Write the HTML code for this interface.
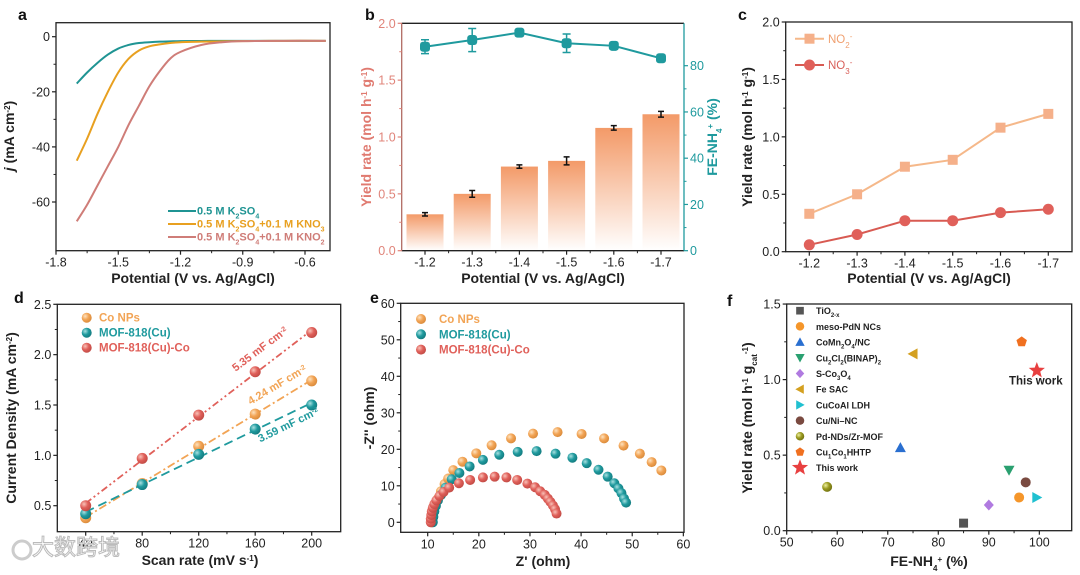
<!DOCTYPE html>
<html><head><meta charset="utf-8">
<style>
html,body{margin:0;padding:0;background:#fff;}
svg{display:block;font-family:"Liberation Sans",Arial,sans-serif;}
</style></head>
<body>
<svg id="fig" width="1080" height="575" viewBox="0 0 1080 575" xmlns="http://www.w3.org/2000/svg">
<defs>
<linearGradient id="barGrad" x1="0" y1="0" x2="0" y2="1">
<stop offset="0" stop-color="#f39a68"/><stop offset="1" stop-color="#ffffff"/></linearGradient>
<radialGradient id="gOr" cx="0.35" cy="0.35" r="0.7"><stop offset="0" stop-color="#fde2bf"/><stop offset="0.5" stop-color="#f2a455"/><stop offset="1" stop-color="#d98a3a"/></radialGradient>
<radialGradient id="gTe" cx="0.35" cy="0.35" r="0.7"><stop offset="0" stop-color="#a8e0e0"/><stop offset="0.5" stop-color="#1f9a9e"/><stop offset="1" stop-color="#137a7e"/></radialGradient>
<radialGradient id="gRe" cx="0.35" cy="0.35" r="0.7"><stop offset="0" stop-color="#f8c2b8"/><stop offset="0.5" stop-color="#e0605a"/><stop offset="1" stop-color="#c04a44"/></radialGradient>
<radialGradient id="gOl" cx="0.35" cy="0.35" r="0.7"><stop offset="0" stop-color="#eef0a0"/><stop offset="0.5" stop-color="#9a9a20"/><stop offset="1" stop-color="#707010"/></radialGradient>
</defs>
</svg>
<script>
// ---------- DATA ----------
// panel a
const aX = [-1.7,-1.65,-1.6,-1.55,-1.5,-1.45,-1.4,-1.35,-1.3,-1.25,-1.2,-1.1,-1.0,-0.9,-0.7,-0.5];
const aK2SO4 = [-17,-13,-9.5,-6.5,-4.3,-3,-2.3,-2,-1.8,-1.7,-1.6,-1.55,-1.5,-1.5,-1.5,-1.5];
const aKNO3 = [-45,-37,-28,-20,-13,-8,-5,-3.5,-2.8,-2.3,-2,-1.8,-1.7,-1.6,-1.5,-1.5];
const aKNO2 = [-67,-61,-54,-47,-40,-32,-25,-18,-12.5,-8,-5.5,-3,-2,-1.6,-1.5,-1.5];
const aXTicks = [-1.8,-1.5,-1.2,-0.9,-0.6];
const aYTicks = [0,-20,-40,-60];
// panel b
const bCats = ["-1.2","-1.3","-1.4","-1.5","-1.6","-1.7"];
const bYield = [0.32,0.50,0.74,0.79,1.08,1.20];
const bYieldErr = [0.015,0.03,0.015,0.035,0.02,0.025];
const bFE = [88.2,91.1,94.3,89.7,88.6,83.2];
const bFEErr = [3,5,1,4,1.5,1];
const bYTicks = [0,0.5,1.0,1.5,2.0];
const bY2Ticks = [0,20,40,60,80];
// panel c
const cCats = ["-1.2","-1.3","-1.4","-1.5","-1.6","-1.7"];
const cNO2 = [0.33,0.50,0.74,0.80,1.08,1.20];
const cNO3 = [0.06,0.15,0.27,0.27,0.34,0.37];
const cYTicks = [0,0.5,1.0,1.5,2.0];
// panel d
const dX = [40,80,120,160,200];
const dCoNPs = [0.38,0.72,1.09,1.41,1.74];
const dMOFCu = [0.42,0.71,1.01,1.26,1.50];
const dMOFCo = [0.50,0.97,1.40,1.83,2.22];
const dYTicks = [0.5,1.0,1.5,2.0,2.5];
const dXTicks = [40,80,120,160,200];
// panel e
const eCoX = [10.8,11,11.2,11.5,12,12.6,13.3,14,15,16.8,19.5,22.5,26.3,30.6,35.4,40.1,44.5,48.3,51.5,53.8,55.7];
const eCoY = [0,1.5,3,4.5,6.5,8.5,10.5,12,14.3,16.6,18.9,21.1,23,24.3,24.7,24.2,23,21,18.8,16.5,14.2];
const eCuX = [11,11.1,11.3,11.6,12,12.6,13.5,14.7,16.2,18.2,20.8,24,27.6,31.3,35,38.3,41.1,43.4,45.2,46.5,47.3,47.9,48.4,48.8];
const eCuY = [0,1.5,3,4.5,6,7.5,9.5,11.8,13.5,15.3,17.1,18.5,19.3,19.5,18.8,17.7,16.2,14.4,12.5,10.7,9.3,8,6.5,5.4];
const eCuCoX = [10.6,10.6,10.7,10.8,11,11.3,11.7,12.3,13.1,14.2,16.1,18.3,20.8,23.1,25.4,27.5,29.5,31,32,32.9,33.5,34,34.5,34.9,35.2];
const eCuCoY = [0,1,2,3,4,5,6,7.2,8.3,9.5,10.7,11.6,12.3,12.5,12.3,11.6,10.6,9.6,8.5,7.5,6.5,5.6,4.6,3.6,2.4];
const eXTicks = [10,20,30,40,50,60];
const eYTicks = [0,10,20,30,40,50,60];
// panel f
const fNames = ["TiO<tspan baseline-shift='sub' font-size='6'>2-x</tspan>","meso-PdN NCs","CoMn<tspan baseline-shift='sub' font-size='6'>2</tspan>O<tspan baseline-shift='sub' font-size='6'>4</tspan>/NC","Cu<tspan baseline-shift='sub' font-size='6'>2</tspan>Cl<tspan baseline-shift='sub' font-size='6'>2</tspan>(BINAP)<tspan baseline-shift='sub' font-size='6'>2</tspan>","S-Co<tspan baseline-shift='sub' font-size='6'>3</tspan>O<tspan baseline-shift='sub' font-size='6'>4</tspan>","Fe SAC","CuCoAl LDH","Cu/Ni–NC","Pd-NDs/Zr-MOF","Cu<tspan baseline-shift='sub' font-size='6'>1</tspan>Co<tspan baseline-shift='sub' font-size='6'>1</tspan>HHTP","This work"];
const fFE = [85,96,72.5,94,90,75,99.5,97.3,58,96.5,99.5];
const fYield = [0.05,0.22,0.55,0.40,0.17,1.17,0.22,0.32,0.29,1.25,1.06];
const fXTicks = [50,60,70,80,90,100];
const fYTicks = [0,0.5,1.0,1.5];

// ---------- HELPERS ----------
const NS="http://www.w3.org/2000/svg";
const svg=document.getElementById('fig');
function mk(parent, tag, attrs, name){
  const el=document.createElementNS(NS,tag);
  for(const k in attrs) el.setAttribute(k,attrs[k]);
  
  
  parent.appendChild(el); return el;
}
function txt(parent,x,y,html,attrs,name){
  const a=Object.assign({x:x,y:y,'font-size':12.5,fill:'#222'},attrs||{});
  const t=mk(parent,'text',a,name); t.innerHTML=html; return t;
}
function grp(name){ return mk(svg,'g',{},name); }
function smooth(pts){
  let d='M'+pts[0][0]+','+pts[0][1];
  for(let i=0;i<pts.length-1;i++){
    const p0=pts[Math.max(0,i-1)],p1=pts[i],p2=pts[i+1],p3=pts[Math.min(pts.length-1,i+2)];
    const c1=[p1[0]+(p2[0]-p0[0])/6,p1[1]+(p2[1]-p0[1])/6];
    const c2=[p2[0]-(p3[0]-p1[0])/6,p2[1]-(p3[1]-p1[1])/6];
    d+=' C'+c1+' '+c2+' '+p2;
  }
  return d;
}
function frame(g,l,t,r,b,name){ mk(g,'rect',{x:l,y:t,width:r-l,height:b-t,fill:'none',stroke:'#222','stroke-width':1.3},name); }
function xTicksF(g,ticks,sx,b,labels,color,minor){
  ticks.forEach((v,i)=>{
    mk(g,'line',{x1:sx(v),x2:sx(v),y1:b,y2:b+4,stroke:'#222','stroke-width':1.2},'x-tick');
    txt(g,sx(v),b+16,labels?labels[i]:String(v),{'text-anchor':'middle',fill:color||'#222'},'x-tick-label');
  });
  if(minor) for(let i=0;i<ticks.length-1;i++){const m=(ticks[i]+ticks[i+1])/2;
    mk(g,'line',{x1:sx(m),x2:sx(m),y1:b,y2:b+2.5,stroke:'#222','stroke-width':1},'x-minor-tick');}
}
function yTicksF(g,ticks,sy,l,fmt,color,side){
  const dir=side==='right'?1:-1;
  ticks.forEach(v=>{
    mk(g,'line',{x1:l,x2:l+dir*4,y1:sy(v),y2:sy(v),stroke:color||'#222','stroke-width':1.2},'y-tick');
    txt(g,l+dir*6,sy(v)+4.5,fmt(v),{'text-anchor':side==='right'?'start':'end',fill:color||'#222'},'y-tick-label');
  });
  for(let i=0;i<ticks.length-1;i++){const m=(ticks[i]+ticks[i+1])/2;
    mk(g,'line',{x1:l,x2:l+dir*2.5,y1:sy(m),y2:sy(m),stroke:color||'#222','stroke-width':1},'y-minor-tick');}
}
function panelLabel(x,y,s){ txt(svg,x,y,s,{'font-size':16,'font-weight':'bold',fill:'#111'},'panel-label-'+s); }
function ytitle(g,x,y,html,color,name){ txt(g,0,0,html,{'font-size':14,'font-weight':'bold',fill:color||'#222','text-anchor':'middle',transform:`translate(${x},${y}) rotate(-90)`},name); }
function xtitle(g,x,y,html,name){ txt(g,x,y,html,{'font-size':14,'font-weight':'bold','text-anchor':'middle'},name); }
const f1=v=>v.toFixed(1), f0=v=>String(v);

// ---------- PANEL A ----------
(function(){
  const g=grp('panel-a-lsv');
  const sx=v=>56+(v+1.8)*(249/1.2), sy=v=>36.7-v*2.755;
  frame(g,56,22.7,330,250.7,'plot-frame');
  xTicksF(g,aXTicks,sx,250.7,aXTicks.map(v=>v.toFixed(1)),null,true);
  yTicksF(g,aYTicks,sy,56,f0);
  const series=[[aK2SO4,'#1f9493','curve-k2so4'],[aKNO3,'#e8a020','curve-kno3'],[aKNO2,'#cf7d78','curve-kno2']];
  series.forEach(s=>{
    mk(g,'path',{d:smooth(aX.map((x,i)=>[sx(x),sy(s[0][i])])),fill:'none',stroke:s[1],'stroke-width':2},s[2]);
  });
  const leg=[['0.5 M K<tspan baseline-shift="sub" font-size="7">2</tspan>SO<tspan baseline-shift="sub" font-size="7">4</tspan>','#1f9493'],
    ['0.5 M K<tspan baseline-shift="sub" font-size="7">2</tspan>SO<tspan baseline-shift="sub" font-size="7">4</tspan>+0.1 M KNO<tspan baseline-shift="sub" font-size="7">3</tspan>','#e8a020'],
    ['0.5 M K<tspan baseline-shift="sub" font-size="7">2</tspan>SO<tspan baseline-shift="sub" font-size="7">4</tspan>+0.1 M KNO<tspan baseline-shift="sub" font-size="7">2</tspan>','#cf7d78']];
  leg.forEach((l,i)=>{const y=211+i*13;
    mk(g,'line',{x1:168,x2:196,y1:y,y2:y,stroke:l[1],'stroke-width':2},'legend-line');
    txt(g,197,y+3.5,l[0],{'font-size':11,'font-weight':'bold',fill:l[1]},'legend-entry');});
  xtitle(g,193,283,'Potential (V vs. Ag/AgCl)','x-axis-title');
  ytitle(g,14,136,'<tspan font-style="italic">j</tspan> (mA cm<tspan baseline-shift="super" font-size="8">-2</tspan>)','#222','y-axis-title');
})();
panelLabel(18,20,'a');

// ---------- PANEL B ----------
(function(){
  const g=grp('panel-b-yield-fe');
  const L=401.7,R=684,T=23.3,B=250.7;
  const sx=i=>425+i*47.2, sy=v=>B-v*113.7, sy2=v=>B-v*2.3125;
  bYield.forEach((v,i)=>{
    mk(g,'rect',{x:sx(i)-18.5,y:sy(v),width:37,height:B-sy(v),fill:'url(#barGrad)'},'bar-'+bCats[i]);
    const e=bYieldErr[i];
    mk(g,'path',{d:`M${sx(i)},${sy(v+e)}V${sy(v-e)}M${sx(i)-3},${sy(v+e)}h6M${sx(i)-3},${sy(v-e)}h6`,stroke:'#111','stroke-width':1.5,fill:'none'},'error-bar');
  });
  mk(g,'polyline',{points:bFE.map((v,i)=>sx(i)+','+sy2(v)).join(' '),fill:'none',stroke:'#1f9a9e','stroke-width':2},'fe-line');
  bFE.forEach((v,i)=>{const e=bFEErr[i];
    mk(g,'path',{d:`M${sx(i)},${sy2(v+e)}V${sy2(v-e)}M${sx(i)-4},${sy2(v+e)}h8M${sx(i)-4},${sy2(v-e)}h8`,stroke:'#1f9a9e','stroke-width':1.5,fill:'none'},'fe-error-bar');
    mk(g,'rect',{x:sx(i)-5,y:sy2(v)-5,width:10,height:10,rx:3,fill:'#1f9a9e'},'fe-point');});
  mk(g,'line',{x1:L,x2:R,y1:T,y2:T,stroke:'#222','stroke-width':1.3},'top-axis');
  mk(g,'line',{x1:L,x2:R,y1:B,y2:B,stroke:'#222','stroke-width':1.3},'bottom-axis');
  mk(g,'line',{x1:L,x2:L,y1:T,y2:B,stroke:'#b06b63','stroke-width':1.3},'left-axis');
  mk(g,'line',{x1:R,x2:R,y1:T,y2:B,stroke:'#1f9a9e','stroke-width':1.3},'right-axis');
  xTicksF(g,[0,1,2,3,4,5],sx,B,bCats,null,true);
  yTicksF(g,bYTicks,sy,L,f1,'#e0847a');
  yTicksF(g,bY2Ticks,sy2,R,f0,'#1f9a9e','right');
  xtitle(g,543,283,'Potential (V vs. Ag/AgCl)','x-axis-title');
  ytitle(g,371,137,'Yield rate (mol h<tspan baseline-shift="super" font-size="8">-1</tspan> g<tspan baseline-shift="super" font-size="8">-1</tspan>)','#e07a70','y-axis-title-left');
  txt(g,0,0,'FE-NH<tspan baseline-shift="sub" font-size="8">4</tspan><tspan baseline-shift="super" font-size="8">+</tspan> (%)',{'font-size':14,'font-weight':'bold',fill:'#1f9a9e','text-anchor':'middle',transform:'translate(717,137) rotate(-90)'},'y-axis-title-right');
})();
panelLabel(365,20,'b');

// ---------- PANEL C ----------
(function(){
  const g=grp('panel-c-yield');
  const L=785.7,R=1072,T=22,B=251.7;
  const sx=i=>809.3+i*47.8, sy=v=>B-v*114.85;
  frame(g,L,T,R,B,'plot-frame');
  xTicksF(g,[0,1,2,3,4,5],sx,B,cCats,null,true);
  yTicksF(g,cYTicks,sy,L,f1);
  mk(g,'polyline',{points:cNO2.map((v,i)=>sx(i)+','+sy(v)).join(' '),fill:'none',stroke:'#f5b88a','stroke-width':2},'no2-line');
  cNO2.forEach((v,i)=>mk(g,'rect',{x:sx(i)-5,y:sy(v)-5,width:10,height:10,fill:'#f5b08a'},'no2-point'));
  mk(g,'polyline',{points:cNO3.map((v,i)=>sx(i)+','+sy(v)).join(' '),fill:'none',stroke:'#d85a52','stroke-width':2},'no3-line');
  cNO3.forEach((v,i)=>mk(g,'circle',{cx:sx(i),cy:sy(v),r:5.5,fill:'#e0605a'},'no3-point'));
  mk(g,'line',{x1:795,x2:824,y1:38.7,y2:38.7,stroke:'#f5b88a','stroke-width':2},'legend-line');
  mk(g,'rect',{x:804.5,y:33.7,width:10,height:10,fill:'#f5b08a'},'legend-marker');
  txt(g,828,43,'NO<tspan baseline-shift="sub" font-size="8">2</tspan><tspan baseline-shift="super" font-size="8">-</tspan>',{'font-size':11.5,fill:'#f0a070'},'legend-entry-no2');
  mk(g,'line',{x1:795,x2:824,y1:65,y2:65,stroke:'#d85a52','stroke-width':2},'legend-line');
  mk(g,'circle',{cx:809.5,cy:65,r:5.5,fill:'#e0605a'},'legend-marker');
  txt(g,828,69,'NO<tspan baseline-shift="sub" font-size="8">3</tspan><tspan baseline-shift="super" font-size="8">-</tspan>',{'font-size':11.5,fill:'#d8605a'},'legend-entry-no3');
  xtitle(g,929,283,'Potential (V vs. Ag/AgCl)','x-axis-title');
  ytitle(g,752,137,'Yield rate (mol h<tspan baseline-shift="super" font-size="8">-1</tspan> g<tspan baseline-shift="super" font-size="8">-1</tspan>)','#222','y-axis-title');
})();
panelLabel(738,20,'c');

// ---------- PANEL D ----------
(function(){
  const g=grp('panel-d-cdl');
  const L=57.3,R=340.7,T=304.3,B=531.7;
  const sx=v=>85.7+(v-40)*1.4125, sy=v=>505.7-(v-0.5)*100.7;
  frame(g,L,T,R,B,'plot-frame');
  xTicksF(g,dXTicks,sx,B,null,null,true);
  yTicksF(g,dYTicks,sy,L,f1);
  const ser=[[dCoNPs,'#f2a455','url(#gOr)','8 3 2 3','co-nps'],[dMOFCu,'#1f9a9e','url(#gTe)','9 5','mof-818-cu'],[dMOFCo,'#e0605a','url(#gRe)','7 3 2 3 2 3','mof-818-cu-co']];
  ser.forEach(s=>{
    const y=s[0], n=y.length, mx=dX.reduce((a,b)=>a+b)/n, my=y.reduce((a,b)=>a+b)/n;
    let num=0,den=0; dX.forEach((x,i)=>{num+=(x-mx)*(y[i]-my);den+=(x-mx)*(x-mx);});
    const k=num/den,b0=my-k*mx;
    mk(g,'line',{x1:sx(40),y1:sy(b0+k*40),x2:sx(200),y2:sy(b0+k*200),stroke:s[1],'stroke-width':1.8,'stroke-dasharray':s[3]},'fit-line-'+s[4]);
    y.forEach((v,i)=>mk(g,'circle',{cx:sx(dX[i]),cy:sy(v),r:5.5,fill:s[2]},'point-'+s[4]));
  });
  txt(g,0,0,'5.35 mF cm<tspan baseline-shift="super" font-size="7">-2</tspan>',{'font-size':11,'font-weight':'bold',fill:'#e0605a','text-anchor':'middle',transform:'translate(262,352) rotate(-37)'},'slope-label-mof-818-cu-co');
  txt(g,0,0,'4.24 mF cm<tspan baseline-shift="super" font-size="7">-2</tspan>',{'font-size':11,'font-weight':'bold',fill:'#f2a455','text-anchor':'middle',transform:'translate(279,388) rotate(-31)'},'slope-label-co-nps');
  txt(g,0,0,'3.59 mF cm<tspan baseline-shift="super" font-size="7">-2</tspan>',{'font-size':11,'font-weight':'bold',fill:'#1f9a9e','text-anchor':'middle',transform:'translate(290,428) rotate(-26)'},'slope-label-mof-818-cu');
  const leg=[['Co NPs','#f2a455','url(#gOr)'],['MOF-818(Cu)','#1f9a9e','url(#gTe)'],['MOF-818(Cu)-Co','#e0605a','url(#gRe)']];
  leg.forEach((l,i)=>{const y=317.7+i*15;
    mk(g,'circle',{cx:86.7,cy:y,r:5,fill:l[2]},'legend-marker');
    txt(g,99,y+4,l[0],{'font-size':11.5,'font-weight':'bold',fill:l[1]},'legend-entry');});
  xtitle(g,200,565,'Scan rate (mV s<tspan baseline-shift="super" font-size="8">-1</tspan>)','x-axis-title');
  ytitle(g,16,418,'Current Density (mA cm<tspan baseline-shift="super" font-size="8">-2</tspan>)','#222','y-axis-title');
})();
panelLabel(14,303,'d');

// ---------- PANEL E ----------
(function(){
  const g=grp('panel-e-eis');
  const L=400.7,R=684,T=303.3,B=532.3;
  const sx=v=>427.7+(v-10)*5.113, sy=v=>522.3-v*3.65;
  frame(g,L,T,R,B,'plot-frame');
  xTicksF(g,eXTicks,sx,B,null,null,true);
  yTicksF(g,eYTicks,sy,L,f0);
  [[eCoX,eCoY,'url(#gOr)','co-nps'],[eCuX,eCuY,'url(#gTe)','mof-818-cu'],[eCuCoX,eCuCoY,'url(#gRe)','mof-818-cu-co']].forEach(s=>{
    s[0].forEach((x,i)=>mk(g,'circle',{cx:sx(x),cy:sy(s[1][i]),r:5,fill:s[2]},'point-'+s[3]));
  });
  const leg=[['Co NPs','#f2a455','url(#gOr)'],['MOF-818(Cu)','#1f9a9e','url(#gTe)'],['MOF-818(Cu)-Co','#e0605a','url(#gRe)']];
  leg.forEach((l,i)=>{const y=319+i*15.3;
    mk(g,'circle',{cx:421,cy:y,r:5,fill:l[2]},'legend-marker');
    txt(g,439,y+4,l[0],{'font-size':11.5,'font-weight':'bold',fill:l[1]},'legend-entry');});
  xtitle(g,543,566,'Z\' (ohm)','x-axis-title');
  ytitle(g,374,418,'-Z\'\' (ohm)','#222','y-axis-title');
})();
panelLabel(370,303,'e');

// ---------- PANEL F ----------
(function(){
  const g=grp('panel-f-comparison');
  const L=786.7,R=1071.7,T=304,B=530.7;
  const sx=v=>L+(v-50)*5.053, sy=v=>B-v*151.1;
  frame(g,L,T,R,B,'plot-frame');
  xTicksF(g,fXTicks,sx,B,null,null,true);
  yTicksF(g,fYTicks,sy,L,f1);
  const cols=['#555','#f5962a','#2a6fd0','#2aa070','#b07ae0','#d4a020','#20c0d0','#7a4a40','olive','#f07020','#e84040'];
  function marker(p,x,y,i,s,name){
    const c=cols[i];
    const poly=pts=>mk(p,'polygon',{points:pts.map(q=>(x+q[0]*s)+','+(y+q[1]*s)).join(' '),fill:c},name);
    switch(i){
      case 0: return mk(p,'rect',{x:x-4.5*s,y:y-4.5*s,width:9*s,height:9*s,fill:c},name);
      case 1: case 7: return mk(p,'circle',{cx:x,cy:y,r:5*s,fill:c},name);
      case 8: return mk(p,'circle',{cx:x,cy:y,r:5*s,fill:'url(#gOl)'},name);
      case 2: return poly([[0,-5.5],[5.5,4.5],[-5.5,4.5]]);
      case 3: return poly([[0,5.5],[5.5,-4.5],[-5.5,-4.5]]);
      case 4: return poly([[0,-5.5],[5,0],[0,5.5],[-5,0]]);
      case 5: return poly([[-5.5,0],[4.5,-5.5],[4.5,5.5]]);
      case 6: return poly([[5.5,0],[-4.5,-5.5],[-4.5,5.5]]);
      case 9: { const pts=[];for(let k=0;k<5;k++){const a=-Math.PI/2+k*2*Math.PI/5;pts.push([5.5*Math.cos(a),5.5*Math.sin(a)]);} return poly(pts);}
      case 10: { const pts=[];for(let k=0;k<10;k++){const a=-Math.PI/2+k*Math.PI/5,r=k%2?3.6:8.5;pts.push([r*Math.cos(a),r*Math.sin(a)]);} return poly(pts);}
    }
  }
  fFE.forEach((v,i)=>marker(g,sx(v),sy(fYield[i]),i,1,'point-'+i));
  fNames.forEach((n,i)=>{const y=310.7+i*15.7;
    marker(g,800,y,i,i===10?1:0.85,'legend-marker');
    txt(g,816,y+3.5,n,{'font-size':9,'font-weight':'bold',fill:'#222'},'legend-entry');});
  txt(g,sx(fFE[10])-1,384.5,'This work',{'font-size':11.5,'font-weight':'bold','text-anchor':'middle'},'this-work-label');
  xtitle(g,929,566,'FE-NH<tspan baseline-shift="sub" font-size="8">4</tspan><tspan baseline-shift="super" font-size="8">+</tspan> (%)','x-axis-title');
  ytitle(g,752,418,'Yield rate (mol h<tspan baseline-shift="super" font-size="8">-1</tspan> g<tspan baseline-shift="sub" font-size="8">cat</tspan><tspan baseline-shift="super" font-size="8">-1</tspan>)','#222','y-axis-title');
})();
panelLabel(727,306,'f');

// watermark
(function(){
  const g=grp('watermark');
  mk(g,'circle',{cx:22,cy:550,r:9,fill:'none',stroke:'#ccc','stroke-width':3},'watermark-logo');
  txt(g,32,555,'大数跨境',{'font-size':22,fill:'#fff',stroke:'#bbb','stroke-width':1,'font-family':'"Noto Sans CJK SC",sans-serif'},'watermark-text');
})();
</script>
</body></html>
